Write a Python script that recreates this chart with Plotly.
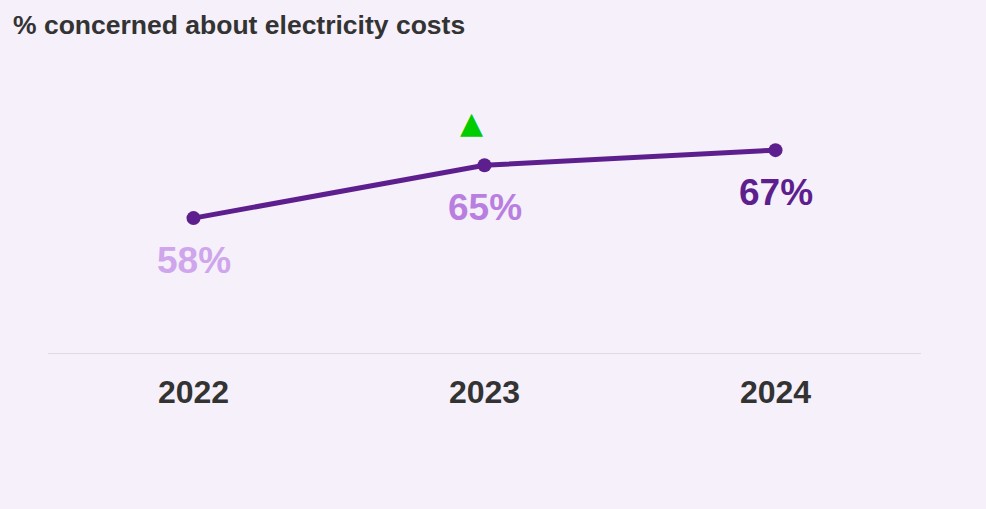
import plotly.graph_objects as go

years = ["2022", "2023", "2024"]
concerned = [58, 65, 67]
label_colors = ["#CFA6EC", "#B97FE0", "#5E1F8E"]
significant_rise = [False, True, False]

BG = "#F5F0FA"
LINE = "#5E1F8E"
FONT = "Liberation Sans, Arial, sans-serif"

fig = go.Figure()
fig.add_trace(go.Scatter(
    x=years, y=concerned, mode="lines+markers",
    line=dict(color=LINE, width=5),
    marker=dict(color=LINE, size=14),
    hoverinfo="skip", showlegend=False,
))

# value labels under each point (category index, since the years look numeric)
for i, (val, col) in enumerate(zip(concerned, label_colors)):
    fig.add_annotation(x=i, y=val, xref="x", yref="y", text=f"<b>{val}%</b>",
                       showarrow=False, yshift=-42,
                       font=dict(family=FONT, size=37, color=col))

# green up-arrow for significant increases
for i, (val, sig) in enumerate(zip(concerned, significant_rise)):
    if sig:
        fig.add_annotation(x=i, y=val, xref="x", yref="y", text="▲",
                           showarrow=False, xshift=-13, yshift=43,
                           font=dict(family="DejaVu Sans", size=30, color="#00CC00"))

fig.add_annotation(xref="paper", yref="paper", x=-0.042, y=1.0, yshift=44,
                   xanchor="left", yanchor="top", showarrow=False,
                   text="<b>% concerned about electricity costs</b>",
                   font=dict(family=FONT, size=26.5, color="#333333"))

fig.update_xaxes(type="category", range=[-0.5, 2.5], showgrid=False, zeroline=False,
                 showline=False, ticks="", ticklabelstandoff=16,
                 tickfont=dict(family=FONT, size=32, color="#333333"),
                 tickprefix="<b>", ticksuffix="</b>")
fig.update_yaxes(range=[40, 80], showgrid=False, zeroline=False,
                 showticklabels=False)

fig.add_shape(type="line", xref="paper", yref="y", x0=0, x1=1, y0=40, y1=40,
              line=dict(color="#DEDAE2", width=2), layer="below")

fig.update_layout(
    width=986, height=509,
    margin=dict(l=48, r=65, t=52, b=155),
    paper_bgcolor=BG, plot_bgcolor=BG,
    font=dict(family=FONT),
)

fig.write_html("out.html", config={"displayModeBar": False},
               post_script="document.body.style.margin='0';")
